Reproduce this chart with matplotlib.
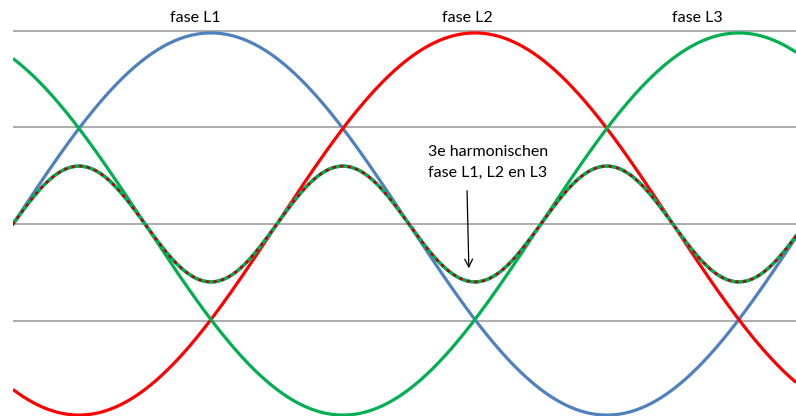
import numpy as np
import matplotlib
matplotlib.use("Agg")
import matplotlib.pyplot as plt

# Three-phase system: fundamental phases and the 3rd harmonic of each phase
phase_names = ["fase L1", "fase L2", "fase L3"]
phase_shift_deg = [0, 120, 240]
phase_colors = ["#4F81BD", "#FF0000", "#00B050"]
fundamental_amplitude = 0.99
harmonic_order = 3
harmonic_amplitude = 0.30
grid_levels = [-0.5, 0.0, 0.5, 1.0]
label_x_deg = [83, 206.5, 311]

W, H = 796, 416
fig = plt.figure(figsize=(W / 100, H / 100), dpi=100)
ax = fig.add_axes([13 / W, 0, 1 - 13 / W, 1])

theta = np.linspace(0, 360, 2000)
rad = np.deg2rad(theta)

for lvl in grid_levels:
    ax.axhline(lvl, color="#A6A6A6", lw=1.3, zorder=1)

for shift, col in zip(phase_shift_deg, phase_colors):
    y = fundamental_amplitude * np.sin(rad - np.deg2rad(shift))
    ax.plot(theta, y, color=col, lw=2.3, zorder=3, solid_capstyle="butt")

# 3rd harmonics of all three phases coincide (shift 3*120 = 360 deg);
# solid blue and green underneath, red dotted on top
harm_z = {"#4F81BD": 4, "#00B050": 5, "#FF0000": 7}
for shift, col in zip(phase_shift_deg, phase_colors):
    yh = harmonic_amplitude * np.sin(harmonic_order * (rad - np.deg2rad(shift)))
    if col == "#FF0000":
        ax.plot(theta, yh, color="#C00000", lw=1.9, ls=(0, (0.5, 2.4)),
                dash_capstyle="round", zorder=harm_z[col])
    else:
        ax.plot(theta, yh, color=col, lw=2.4, zorder=harm_z[col])

font = "Lato"
for name, xd in zip(phase_names, label_x_deg):
    ax.text(xd, 1.067, name, ha="center", va="center", fontsize=11.5,
            family=font, color="black")

ax.text(188.6, 0.373, "3e harmonischen", ha="left", va="center",
        fontsize=11.5, family=font)
ax.text(188.6, 0.264, "fase L1, L2 en L3", ha="left", va="center",
        fontsize=11.5, family=font)
ax.annotate("", xy=(207.3, -0.244), xytext=(206.4, 0.187),
            arrowprops=dict(arrowstyle="->", color="black", lw=0.9,
                            mutation_scale=14), zorder=8)

ax.set_xlim(0, 356)
ax.set_ylim(-(H - 224) / 193, 224 / 193)
ax.axis("off")

fig.savefig("out.png", dpi=100, facecolor="white")
